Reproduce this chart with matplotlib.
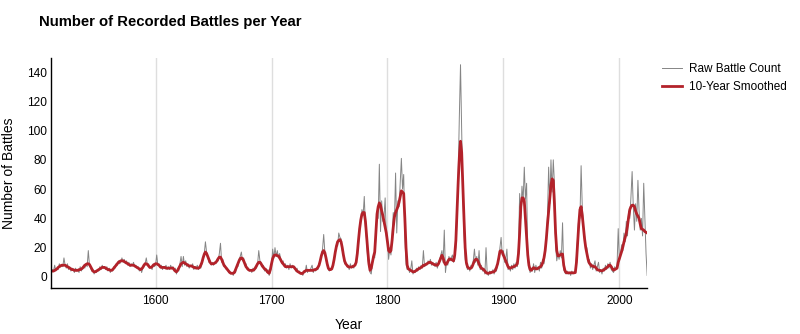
import numpy as np
import matplotlib
matplotlib.use("Agg")
import matplotlib.pyplot as plt

plt.rcParams['font.family'] = ['Liberation Sans', 'DejaVu Sans']

first_year = 1510

# raw yearly battle counts, one row per decade (1510-2024)
raw_counts = [
    3, 5, 4, 8, 4, 6, 5, 9, 7, 8,
    7, 13, 8, 6, 9, 5, 7, 4, 6, 5,
    3, 6, 4, 5, 3, 7, 4, 6, 8, 6,
    9, 7, 18, 8, 6, 4, 5, 2, 4, 3,
    5, 4, 7, 5, 8, 6, 7, 5, 7, 4,
    6, 3, 5, 4, 7, 6, 9, 8, 11, 9,
    10, 13, 10, 12, 9, 11, 8, 10, 7, 9,
    8, 10, 7, 8, 6, 7, 4, 6, 3, 6,
    7, 9, 13, 8, 9, 6, 7, 5, 9, 7,
    8, 15, 8, 9, 6, 8, 5, 7, 6, 8,
    5, 7, 5, 8, 6, 7, 4, 6, 2, 5,
    4, 9, 14, 7, 14, 8, 11, 7, 9, 6,
    8, 7, 9, 5, 7, 6, 8, 5, 7, 6,
    9, 12, 16, 24, 17, 14, 10, 11, 8, 10,
    8, 10, 9, 12, 11, 16, 23, 10, 12, 7,
    8, 5, 6, 3, 4, 2, 3, 1, 4, 3,
    8, 7, 12, 14, 17, 11, 13, 8, 9, 5,
    6, 4, 5, 3, 6, 4, 7, 6, 9, 18,
    11, 10, 7, 8, 4, 6, 3, 5, 1, 4,
    7, 19, 13, 20, 14, 18, 13, 16, 12, 9,
    11, 7, 9, 6, 8, 5, 9, 6, 8, 7,
    7, 4, 6, 3, 4, 2, 3, 1, 4, 3,
    8, 3, 5, 4, 6, 8, 3, 5, 4, 6,
    5, 9, 10, 15, 19, 29, 17, 12, 8, 5,
    4, 6, 5, 7, 13, 16, 22, 21, 30, 27,
    26, 18, 16, 9, 10, 7, 8, 5, 9, 6,
    8, 6, 9, 10, 18, 22, 35, 38, 46, 42,
    55, 34, 25, 12, 8, 3, 2, 9, 15, 13,
    27, 45, 40, 77, 31, 52, 38, 41, 54, 28,
    26, 12, 20, 15, 28, 44, 38, 71, 30, 52,
    48, 64, 81, 60, 70, 28, 9, 5, 7, 3,
    5, 11, 2, 4, 3, 6, 4, 7, 5, 8,
    6, 18, 7, 9, 8, 11, 9, 12, 8, 10,
    9, 7, 10, 6, 9, 12, 15, 18, 10, 32,
    3, 10, 8, 14, 11, 13, 15, 10, 12, 20,
    40, 70, 110, 145, 100, 60, 30, 12, 8, 5,
    7, 4, 8, 6, 11, 19, 10, 14, 8, 18,
    5, 8, 4, 6, 2, 20, 3, 1, 4, 2,
    3, 5, 2, 6, 4, 9, 12, 20, 27, 15,
    18, 10, 12, 19, 5, 7, 4, 8, 5, 9,
    6, 10, 7, 20, 57, 40, 62, 52, 75, 53,
    64, 12, 7, 3, 6, 4, 9, 3, 8, 5,
    7, 4, 10, 6, 12, 9, 18, 25, 42, 75,
    50, 80, 58, 80, 64, 22, 11, 16, 12, 18,
    13, 37, 5, 3, 2, 4, 2, 3, 1, 4,
    2, 3, 4, 14, 27, 41, 40, 76, 48, 35,
    28, 18, 20, 10, 12, 6, 9, 5, 8, 11,
    4, 7, 10, 3, 5, 2, 6, 4, 8, 5,
    9, 6, 10, 5, 4, 3, 7, 5, 8, 33,
    11, 16, 22, 18, 30, 24, 38, 28, 45, 40,
    55, 72, 48, 32, 50, 38, 66, 45, 32, 40,
    28, 64, 40, 16, 1,
]

# smoothed curve, same years
smoothed = [
    4, 4, 4, 4.5, 5, 5.5, 6.5, 7, 7.5, 8,
    8, 8, 8, 7.5, 7, 6.5, 6, 5.5, 5, 5,
    4.5, 4.5, 4.5, 4.5, 5, 5, 5.5, 6, 7, 8,
    8.5, 9, 9, 8.5, 7, 5.5, 4, 3.5, 3.5, 4,
    4.5, 5, 5.5, 6, 6.5, 6.5, 6.5, 6, 5.5, 5,
    5, 4.5, 4.5, 5, 6, 7, 8, 9, 10, 10.5,
    11, 11, 11, 10.5, 10, 9.5, 9, 8.5, 8, 8,
    8, 8, 7.5, 7, 6.5, 6, 5.5, 5, 5.5, 6.5,
    8, 9, 9, 8.5, 7.5, 6.5, 6.5, 7, 8, 8.5,
    9, 9, 8.5, 8, 7, 6.5, 6.5, 6.5, 6.5, 6,
    6, 6, 6, 6, 6, 6, 5, 4, 3.5, 4.5,
    6, 7.5, 9, 9.5, 10, 9.5, 9, 8.5, 8, 7.5,
    7.5, 7.5, 7, 6.5, 6.5, 6, 6, 6, 6.5, 8,
    10, 13, 15.5, 17, 16, 14, 12, 10, 9, 9,
    9, 9.5, 10, 11, 12.5, 13.5, 13.5, 12, 10, 8,
    7, 6, 5, 4, 3, 2.5, 2.5, 2.5, 3, 5,
    7, 9, 11, 12.5, 13, 12.5, 11, 9, 7, 6,
    5, 4.5, 4.5, 4.5, 4.5, 5, 6, 7.5, 9, 10,
    10, 9, 7.5, 6.5, 5.5, 5, 4, 3, 2.5, 5,
    9, 12.5, 14.5, 15, 15, 14.5, 14.3, 13, 11.5, 10,
    9, 8, 7, 7, 7, 7, 7, 7, 7, 7,
    6, 5, 4, 3.5, 3, 2.5, 2.3, 2.5, 3.5, 4,
    4.5, 4.5, 4.5, 4.5, 4.5, 4.5, 4.5, 5, 5, 5.5,
    6.5, 8, 11, 14.5, 17, 18, 16.5, 13, 9, 6,
    5, 5, 5.5, 8, 12, 17, 21, 24, 25, 25.5,
    24, 20, 15, 11, 9, 8, 7, 6.8, 6.8, 6.8,
    7, 7.5, 8, 10, 16, 25, 33, 39, 43, 44,
    44, 38, 28, 18, 9, 4.5, 6, 10, 14, 17,
    30, 43, 48, 50.6, 49, 45, 42, 38, 34, 30,
    24, 18, 17, 18, 25, 34, 41, 44, 46, 48,
    51, 55, 58.8, 58, 57, 40, 20, 8, 5.5, 5,
    4.5, 4, 3.5, 3.5, 4, 4.5, 5, 5.7, 6, 6.5,
    7, 8, 8, 8.5, 9, 9.5, 10, 10, 9.5, 9,
    8.5, 8.4, 8, 8, 9, 11, 13, 14.8, 13, 10,
    8.5, 9, 10.5, 12, 12.3, 12, 11.5, 11, 15, 25,
    45, 65, 82, 92.7, 85, 62, 40, 20, 10, 7,
    6, 5.7, 6, 7, 9, 11, 12, 12, 11, 9,
    7, 6, 5.5, 5, 4, 3, 2.5, 2.5, 2.7, 3,
    3.2, 3.4, 3.6, 4.5, 6.5, 9, 13, 17.5, 18, 17,
    14.8, 13, 11, 9, 7, 6, 6, 6.5, 6.8, 7,
    7.5, 8, 9, 16, 30, 48, 54, 54, 52, 40,
    28, 15, 8, 5, 4.5, 5.5, 6.3, 6, 5.5, 5.5,
    6, 6.5, 7, 8, 10, 13, 18, 26, 36, 45,
    54, 62.6, 67, 66, 50, 30, 18, 14.4, 14.5, 15,
    15.6, 15.6, 8, 4.5, 3, 2.8, 2.8, 2.8, 2.8, 2.8,
    2.8, 2.8, 3, 10, 22.8, 36, 46, 48, 42, 34,
    26, 20, 16, 12, 9.5, 8.5, 7.5, 7.5, 7, 7,
    6, 5, 4.6, 4.5, 4.3, 4.2, 4.5, 5, 5.8, 6.3,
    7, 8, 8, 7, 5.5, 4.6, 5, 5.5, 6, 10,
    12.5, 15, 17.5, 20.5, 24, 27, 30, 35, 41, 46,
    48, 49, 49, 48, 45, 43, 41.5, 40, 36, 33,
    32.5, 32, 31, 30.5, 30,
]

years = np.arange(first_year, first_year + len(raw_counts))
smooth_years = np.arange(first_year, first_year + len(smoothed))

fig = plt.figure(figsize=(8, 3.34), dpi=100)
ax = fig.add_axes([0.064, 0.138, 0.745, 0.688])

ax.plot(years, raw_counts, color='#858585', linewidth=0.7, label='Raw Battle Count')
ax.plot(smooth_years, smoothed, color='#b3222a', linewidth=2.0, label='10-Year Smoothed')

ax.set_xlim(1510, 2024)
ax.set_ylim(-7.5, 149.5)
ax.set_xticks([1600, 1700, 1800, 1900, 2000])
ax.set_yticks(range(0, 141, 20))
ax.grid(axis='x', color='#dedede', linewidth=1)
ax.set_axisbelow(True)
for side in ['top', 'right']:
    ax.spines[side].set_visible(False)
for side in ['left', 'bottom']:
    ax.spines[side].set_linewidth(1.0)
ax.tick_params(axis='both', length=0, labelsize=8.6)
ax.tick_params(axis='y', pad=3)
ax.tick_params(axis='x', pad=5)

ax.set_xlabel('Year', fontsize=10, labelpad=8)
ax.set_ylabel('Number of Battles', fontsize=10, labelpad=8)

fig.text(0.049, 0.934, 'Number of Recorded Battles per Year', fontsize=10.7,
         fontweight='bold', va='center', ha='left')

fig.legend(loc='upper left', bbox_to_anchor=(0.822, 0.825), frameon=False,
           fontsize=8.5, handlelength=1.7, handletextpad=0.6, borderaxespad=0,
           labelspacing=0.5)

fig.savefig('out.png', dpi=100)
